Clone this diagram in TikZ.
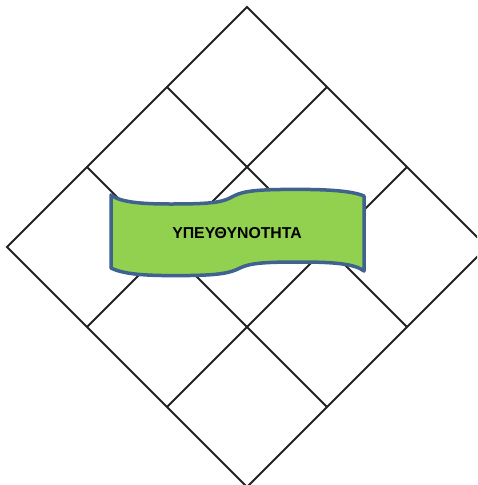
\documentclass[tikz,border=0pt]{standalone}
\usepackage{fontspec}
\setmainfont{Liberation Sans}
\definecolor{gridline}{RGB}{34,34,34}
\definecolor{bannerfill}{RGB}{146,208,80}
\definecolor{bannerdraw}{RGB}{63,98,143}
\begin{document}
\begin{tikzpicture}[x=1pt,y=-1pt,
  gridstroke/.style={draw=gridline,line width=2pt,line join=miter},
  banner/.style={fill=bannerfill,draw=bannerdraw,line width=3.5pt,line join=round},
  bannertext/.style={font=\bfseries\fontsize{15.8}{18}\selectfont,text=black,inner sep=0pt}]
\useasboundingbox (0,0) rectangle (477,485);
\begin{scope}
\clip (0,0) rectangle (477,485);
% diamond vertices
\coordinate (T) at (247,7);
\coordinate (L) at (7,247);
\coordinate (B) at (247,487);
\coordinate (R) at (487,247);
% thirds on the edges
\coordinate (TL1) at (167,87);
\coordinate (TL2) at (87,167);
\coordinate (TR1) at (327,87);
\coordinate (TR2) at (407,167);
\coordinate (BL1) at (87,327);
\coordinate (BL2) at (167,407);
\coordinate (BR1) at (407,327);
\coordinate (BR2) at (327,407);
\draw[gridstroke] (T) -- (R) -- (B) -- (L) -- cycle;
\draw[gridstroke] (TL1) -- (BR1);
\draw[gridstroke] (TL2) -- (BR2);
\draw[gridstroke] (TR1) -- (BL1);
\draw[gridstroke] (TR2) -- (BL2);
\end{scope}
% banner
\path[banner] (111,195) .. controls (120,202) and (140,204) .. (170,204)
  .. controls (205,204) and (220,203) .. (230,198)
  .. controls (240,192) and (250,190) .. (280,189.5)
  .. controls (320,189) and (350,190) .. (364,196)
  -- (364,271)
  .. controls (355,264) and (335,262) .. (300,262)
  .. controls (265,262) and (250,263) .. (240,268)
  .. controls (230,273) and (220,275) .. (190,275.5)
  .. controls (150,276) and (125,275) .. (111,268) -- cycle;
\node[bannertext] (label) at (237,233) {ΥΠΕΥΘΥΝΟΤΗΤΑ};
\end{tikzpicture}
\end{document}
